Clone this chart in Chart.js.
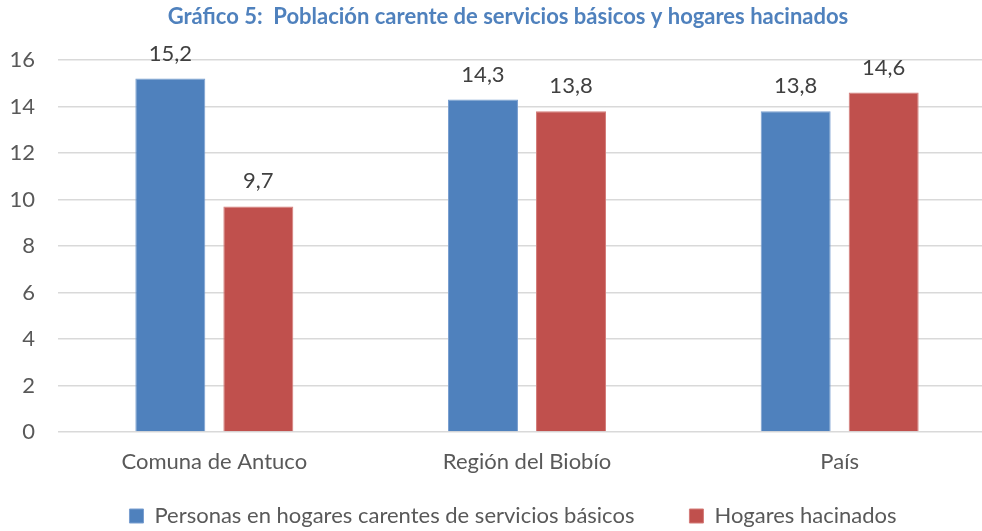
<!DOCTYPE html>
<html><head><meta charset="utf-8">
<script src="https://cdn.jsdelivr.net/npm/chart.js@4"></script>
<style>html,body{margin:0;padding:0;overflow:hidden;background:#fff}canvas{display:block}</style>
</head><body>
<canvas id="c" width="996" height="531"></canvas>
<script>
const titleText = 'Gráfico 5:  Población carente de servicios básicos y hogares hacinados';
const categories = ['Comuna de Antuco', 'Región del Biobío', 'País'];
const seriesNames = ['Personas en hogares carentes de servicios básicos', 'Hogares hacinados'];
const personasValues = [15.2, 14.3, 13.8];
const hogaresValues = [9.7, 13.8, 14.6];
const yMin = 0, yMax = 16, yStep = 2;

const FONT = 'Lato';
const fmt = v => String(v).replace('.', ',');

const valueLabels = {
  id: 'valueLabels',
  afterDatasetsDraw(chart) {
    const ctx = chart.ctx;
    ctx.save();
    ctx.font = '22px ' + FONT;
    ctx.fillStyle = '#404040';
    ctx.textAlign = 'center';
    ctx.textBaseline = 'alphabetic';
    chart.data.datasets.forEach((ds, i) => {
      chart.getDatasetMeta(i).data.forEach((bar, j) => {
        ctx.fillText(fmt(ds.data[j]), bar.x, bar.y - 18);
      });
    });
    ctx.restore();
  }
};

const shiftBoxes = {
  id: 'shiftBoxes',
  afterLayout(chart) {
    const L = chart.legend;
    if (L) {
      const dy = 450 - L.top;
      L.top += dy; L.bottom += dy;
      L.left += 15; L.right += 15;
    }
    const T = chart.titleBlock;
    if (T) { T.left += 10; T.right += 10; }
  }
};

new Chart(document.getElementById('c'), {
  type: 'bar',
  data: {
    labels: categories,
    datasets: [
      { label: seriesNames[0], data: personasValues, backgroundColor: '#4f81bd', borderColor: '#7a9fd0', borderWidth: 1 },
      { label: seriesNames[1], data: hogaresValues, backgroundColor: '#c0504d', borderColor: '#d47c79', borderWidth: 1 }
    ]
  },
  options: {
    responsive: false,
    animation: false,
    devicePixelRatio: 1,
    layout: { padding: { top: 0, left: 0, right: 0, bottom: -48 } },
    datasets: { bar: { categoryPercentage: 0.563, barPercentage: 0.795 } },
    plugins: {
      title: {
        display: true,
        text: titleText,
        color: '#4f81bd',
        font: { family: FONT, size: 22, weight: 'bold' },
        padding: { top: 4, bottom: 29.6 }
      },
      legend: {
        position: 'bottom',
        labels: {
          color: '#595959',
          font: { family: FONT, size: 22 },
          boxWidth: 14, boxHeight: 14,
          padding: 55
        }
      },
      tooltip: { enabled: false }
    },
    scales: {
      x: {
        grid: { display: false },
        border: { display: false },
        ticks: { color: '#595959', font: { family: FONT, size: 22 }, padding: 9 },
        afterFit(s) { s.height = 60; }
      },
      y: {
        min: yMin, max: yMax,
        grid: { color: '#d9d9d9', lineWidth: 1.5, drawTicks: false },
        border: { display: false },
        ticks: { stepSize: yStep, color: '#595959', font: { family: FONT, size: 22 }, padding: 23 },
        afterFit(s) { s.width = 58; }
      }
    }
  },
  plugins: [valueLabels, shiftBoxes]
});
</script>
</body></html>
